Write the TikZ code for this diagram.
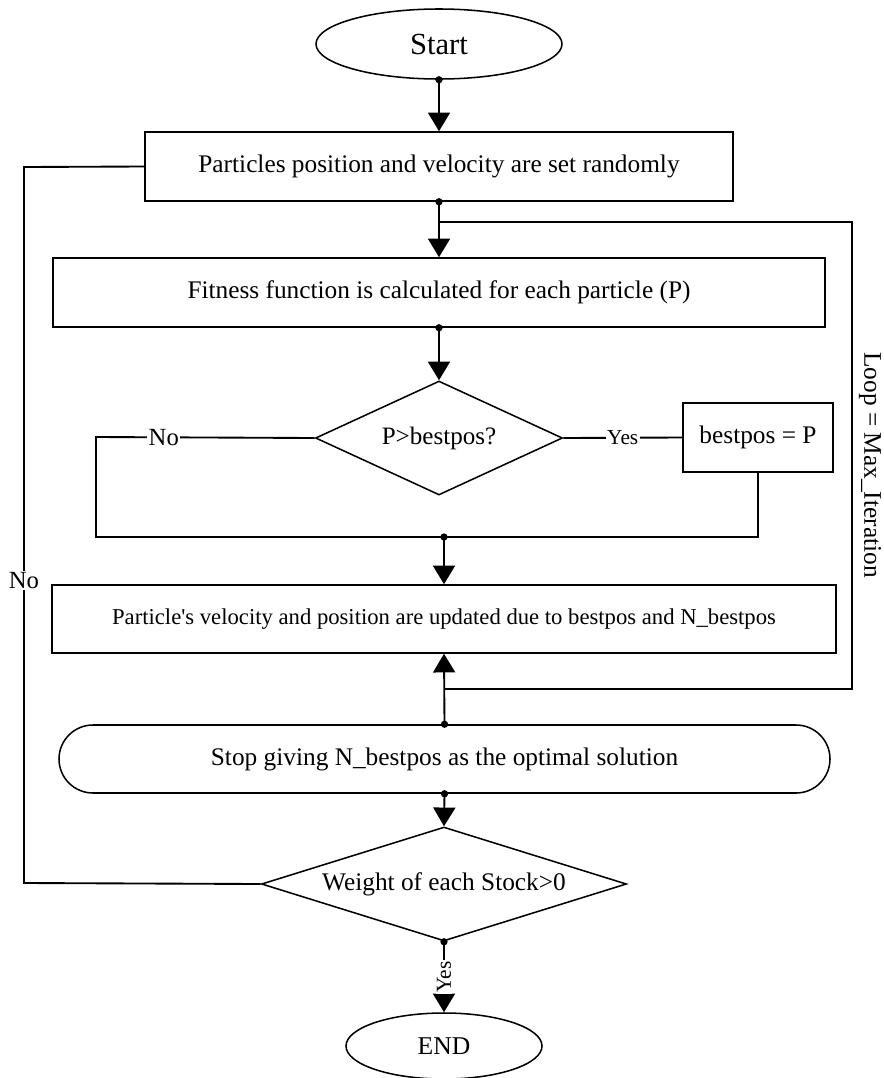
\documentclass[tikz,border=0pt]{standalone}
\usepackage{fontspec}
\setmainfont{Liberation Serif}
\usetikzlibrary{shapes.geometric,shapes.misc,arrows.meta}
\newcommand{\fsz}[1]{\fontsize{#1}{#1}\selectfont}
\begin{document}
\begin{tikzpicture}[x=0.75pt,y=-0.75pt,
  shapeline/.style={draw, line width=1.15pt, inner sep=0pt, align=center},
  term/.style={shapeline, ellipse},
  procbox/.style={shapeline, rectangle},
  stopbox/.style={shapeline, rounded rectangle},
  decision/.style={shapeline, diamond},
  link/.style={line width=1.4pt},
  flowarrow/.style={link, -{Triangle[width=16.5pt,length=14pt]}},
  joint/.style={circle, fill=black, inner sep=0pt, minimum size=5.5pt},
  tag/.style={fill=white, inner sep=1pt}
]
\useasboundingbox (0,0) rectangle (883,1078);

% process steps
\node[term, minimum width=184.5pt, minimum height=52.5pt, font=\fsz{23}] (start) at (439,44) {Start};
\node[procbox, minimum width=441pt, minimum height=51.75pt, font=\fsz{19}] (init) at (439,166.5) {Particles position and velocity are set randomly};
\node[procbox, minimum width=579pt, minimum height=51.75pt, font=\fsz{19}] (fit) at (439,292.5) {Fitness function is calculated for each particle (P)};
\node[decision, aspect=2.17, minimum width=185.25pt, minimum height=85.5pt, font=\fsz{18.8}] (cmp) at (439,438) {P>bestpos?};
\node[procbox, minimum width=112.5pt, minimum height=51.75pt, font=\fsz{19}] (best) at (758,437.5) {bestpos = P};
\node[procbox, minimum width=588pt, minimum height=51pt, font=\fsz{17}] (upd) at (444,619) {Particle\textquotesingle s velocity and position are updated due to bestpos and N\_bestpos};
\node[stopbox, minimum width=578.25pt, minimum height=51pt, font=\fsz{19}] (stop) at (444.5,759) {Stop giving N\_bestpos as the optimal solution};
\node[decision, aspect=3.2, minimum width=273.75pt, minimum height=85.5pt, font=\fsz{19}] (wgt) at (444,884) {Weight of each Stock>0};
\node[term, minimum width=147pt, minimum height=49.5pt, font=\fsz{19.2}] (end) at (444,1046) {END};

% routing points
\coordinate (merge) at (444,537);
\coordinate (noleft) at (96,437);
\coordinate (bestdown) at (758,537);
\coordinate (loopstart) at (444,689);
\coordinate (loopright) at (852,689);
\coordinate (looptop) at (852,222);
\coordinate (loopjoin) at (439,222);
\coordinate (retbottom) at (24,883);
\coordinate (rettop) at (24,167);

% main flow
\draw[flowarrow] (start.south) -- (init.north);
\draw[flowarrow] (init.south) -- (fit.north);
\draw[flowarrow] (fit.south) -- (cmp.north);
\draw[link] (cmp.west) -- node[tag, font=\fsz{18.5}, pos=0.69] {No} (noleft) |- (merge);
\draw[link] (cmp.east) -- node[tag, font=\fsz{16}, pos=0.5] {Yes} (best.west);
\draw[link] (best.south) -- (bestdown) -- (merge);
\draw[flowarrow] (merge) -- (upd.north);
\draw[flowarrow] (stop.north) -- (upd.south);
\draw[link] (loopstart) -- (loopright) -- (looptop) -- (loopjoin);
\draw[flowarrow] (stop.south) -- (wgt.north);
\draw[link] (wgt.west) -- (retbottom) -- node[tag, font=\fsz{18.5}, pos=0.423] {No} (rettop) -- (init.west);
\draw[flowarrow] (wgt.south) -- node[tag, font=\fsz{16}, rotate=90, pos=0.5] {Yes} (end.north);

% loop annotation
\node[rotate=-90, font=\fsz{19}] (looplabel) at (870,465) {Loop = Max\_Iteration};

% junction dots
\node[joint] at (start.south) {};
\node[joint] at (init.south) {};
\node[joint] at (fit.south) {};
\node[joint] at (merge) {};
\node[joint] at (stop.north) {};
\node[joint] at (stop.south) {};
\node[joint] at (wgt.south) {};
\end{tikzpicture}
\end{document}
